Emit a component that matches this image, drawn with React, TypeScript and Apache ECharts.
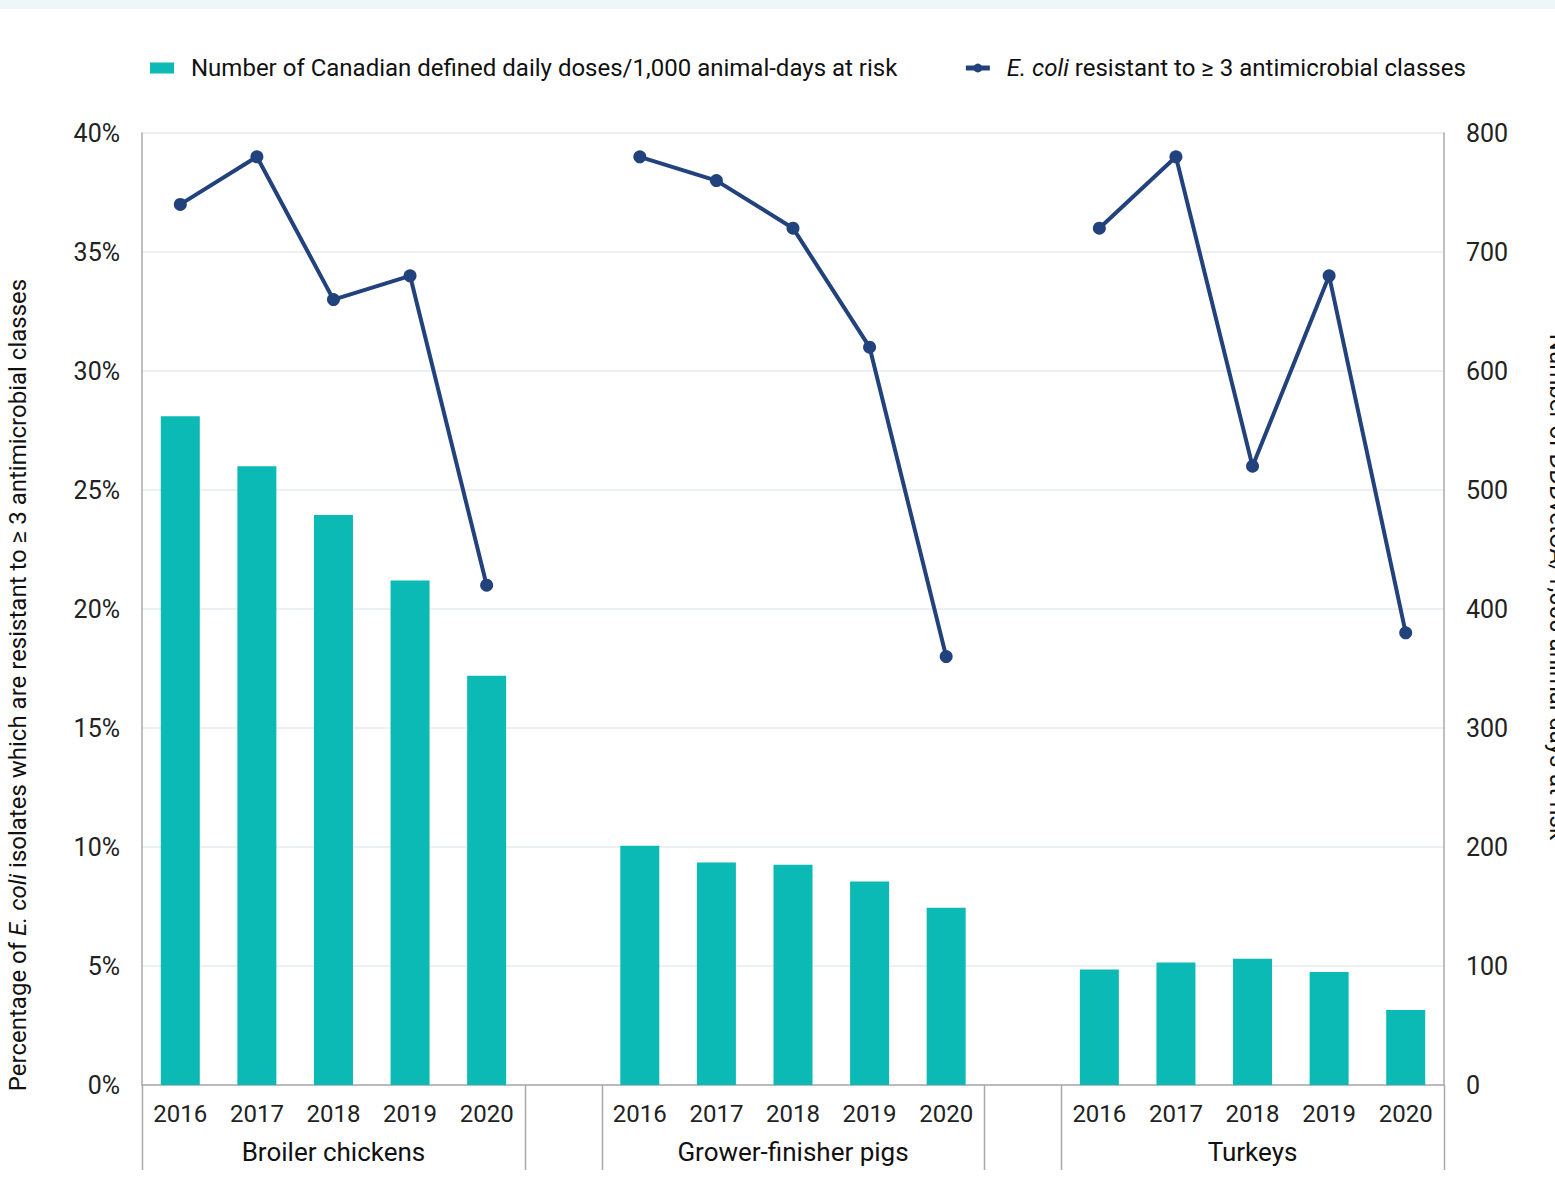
import React, { useEffect, useRef } from "react";
import * as echarts from "echarts";

const years = ["2016", "2017", "2018", "2019", "2020"];
const groups = ["Broiler chickens", "Grower-finisher pigs", "Turkeys"];

// Number of Canadian defined daily doses / 1,000 animal-days at risk (right axis)
const dddBroiler = [562, 520, 479, 424, 344];
const dddPigs = [201, 187, 185, 171, 149];
const dddTurkeys = [97, 103, 106, 95, 63];

// % E. coli resistant to >= 3 antimicrobial classes (left axis)
const pctBroiler = [37, 39, 33, 34, 21];
const pctPigs = [39, 38, 36, 31, 18];
const pctTurkeys = [36, 39, 26, 34, 19];

const leftTicks = { min: 0, max: 40, interval: 5 };
const rightTicks = { min: 0, max: 800, interval: 100 };

const BAR_NAME = "Number of Canadian defined daily doses/1,000 animal-days at risk";
const LINE_NAME = "E. coli resistant to ≥ 3 antimicrobial classes";

const COND = "Roboto, 'Liberation Sans', sans-serif";
const SANS = "Roboto, 'Liberation Sans', sans-serif";

function joinGroups<T>(parts: T[][], gap: T): T[] {
  const out: T[] = [];
  parts.forEach((p, i) => {
    if (i > 0) out.push(gap);
    out.push(...p);
  });
  return out;
}

export default function App() {
  const ref = useRef<HTMLDivElement>(null);
  useEffect(() => {
    document.body.style.margin = "0";
    if (!ref.current) return;
    const chart = echarts.init(ref.current, null, { renderer: "svg" });

    const cats = joinGroups([years, years, years], "");
    const groupCats: string[] = [];
    const groupCenters: number[] = [];
    groups.forEach((g, gi) => {
      groupCenters.push(gi * (years.length + 1) + Math.floor(years.length / 2));
    });
    for (let i = 0; i < cats.length; i++) {
      const gi = groupCenters.indexOf(i);
      groupCats.push(gi >= 0 ? groups[gi] : "");
    }
    const barData = joinGroups<number | null>([dddBroiler, dddPigs, dddTurkeys], null);
    const lineData = joinGroups<number | null>([pctBroiler, pctPigs, pctTurkeys], null);

    const axisGray = "#a9a9a9";

    chart.setOption({
      animation: false,
      backgroundColor: "#ffffff",
      grid: { left: 142, right: 111, top: 133, bottom: 110, containLabel: false, outerBoundsMode: "none" },
      legend: {
        left: 145,
        top: 51,
        itemGap: 66,
        itemWidth: 24,
        itemHeight: 11,
        width: 1400,
        textStyle: {
          fontFamily: COND,
          fontSize: 24,
          color: "#111",
          padding: [0, 0, 0, 12],
          rich: {
            i: { fontStyle: "italic", fontFamily: COND, fontSize: 24, color: "#111" },
            n: { fontFamily: COND, fontSize: 24, color: "#111" },
          },
        },
        formatter: (name: string) =>
          name === LINE_NAME ? "{i|E. coli}{n| resistant to ≥ 3 antimicrobial classes}" : name,
        data: [
          { name: BAR_NAME, icon: "rect", itemStyle: { color: "#0bbab5" } },
          { name: LINE_NAME, lineStyle: { width: 5 } },
        ],
      },
      xAxis: [
        {
          type: "category",
          data: cats,
          position: "bottom",
          axisLine: { show: true, lineStyle: { color: axisGray, width: 1.5 } },
          axisTick: { show: false },
          axisLabel: { fontFamily: SANS, fontSize: 24, color: "#222", margin: 17, interval: 0 },
        },
        {
          type: "category",
          data: groupCats,
          position: "bottom",
          gridIndex: 0,
          axisLine: { show: false },
          axisTick: { show: false },
          axisLabel: {
            fontFamily: COND,
            fontSize: 26,
            color: "#111",
            margin: 54,
            interval: (i: number) => groupCenters.indexOf(i) >= 0,
          },
        },
      ],
      yAxis: [
        {
          type: "value",
          ...leftTicks,
          position: "left",
          axisLine: { show: true, lineStyle: { color: axisGray, width: 1.5 } },
          axisTick: { show: false },
          splitLine: { show: true, lineStyle: { color: "#e6eaef", width: 1.5 } },
          axisLabel: { fontFamily: SANS, fontSize: 25, color: "#222", margin: 22, formatter: "{value}%" },
          name: "{n|Percentage of }{i|E. coli}{n| isolates which are resistant to ≥ 3 antimicrobial classes}",
          nameLocation: "middle",
          nameRotate: 90,
          nameGap: 112,
          nameTextStyle: {
            padding: [0, 152, 0, 0],
            rich: {
              n: { fontFamily: SANS, fontSize: 24, color: "#111" },
              i: { fontFamily: SANS, fontStyle: "italic", fontSize: 24, color: "#111" },
            },
          },
        },
        {
          type: "value",
          ...rightTicks,
          position: "right",
          axisLine: { show: true, lineStyle: { color: axisGray, width: 1.5 } },
          axisTick: { show: false },
          splitLine: { show: false },
          axisLabel: { fontFamily: SANS, fontSize: 25, color: "#222", margin: 22 },
          name: "Number of DDDvetCA/1,000 animal-days-at-risk",
          nameLocation: "middle",
          nameRotate: -90,
          nameGap: 102,
          nameTextStyle: {
            fontFamily: SANS,
            fontSize: 24,
            color: "#111",
            padding: [0, 44, 0, 0],
          },
        },
      ],
      series: [
        {
          name: BAR_NAME,
          type: "bar",
          xAxisIndex: 0,
          yAxisIndex: 1,
          data: barData,
          barWidth: 39,
          itemStyle: { color: "#0bbab5" },
        },
        {
          name: LINE_NAME,
          type: "line",
          xAxisIndex: 0,
          yAxisIndex: 0,
          data: lineData,
          connectNulls: false,
          symbol: "circle",
          symbolSize: 13,
          lineStyle: { color: "#21427c", width: 4 },
          itemStyle: { color: "#21427c" },
        },
      ],
    });

    // Separators under x-axis, computed from the axis scale
    const c0 = chart.convertToPixel({ xAxisIndex: 0 }, 0) as number;
    const c1 = chart.convertToPixel({ xAxisIndex: 0 }, 1) as number;
    const band = c1 - c0;
    const y0 = chart.convertToPixel({ yAxisIndex: 0 }, 0) as number;
    const boundaries: number[] = [0];
    let idx = 0;
    groups.forEach((_, gi) => {
      idx += years.length;
      boundaries.push(idx);
      if (gi < groups.length - 1) {
        idx += 1;
        boundaries.push(idx);
      }
    });
    const lines = boundaries.map((b) => {
      const x = Math.round(c0 - band / 2 + b * band) + 0.5;
      return {
        type: "line",
        shape: { x1: x, y1: y0, x2: x, y2: y0 + 85 },
        style: { stroke: axisGray, lineWidth: 1.5 },
        silent: true,
      };
    });

    chart.setOption({
      graphic: [
        {
          type: "rect",
          shape: { x: 0, y: 0, width: 1555, height: 9 },
          style: { fill: "#edf7f9" },
          silent: true,
        },
        ...lines,
      ],
    });

    return () => chart.dispose();
  }, []);
  return <div ref={ref} style={{ width: 1555, height: 1195 }} />;
}
